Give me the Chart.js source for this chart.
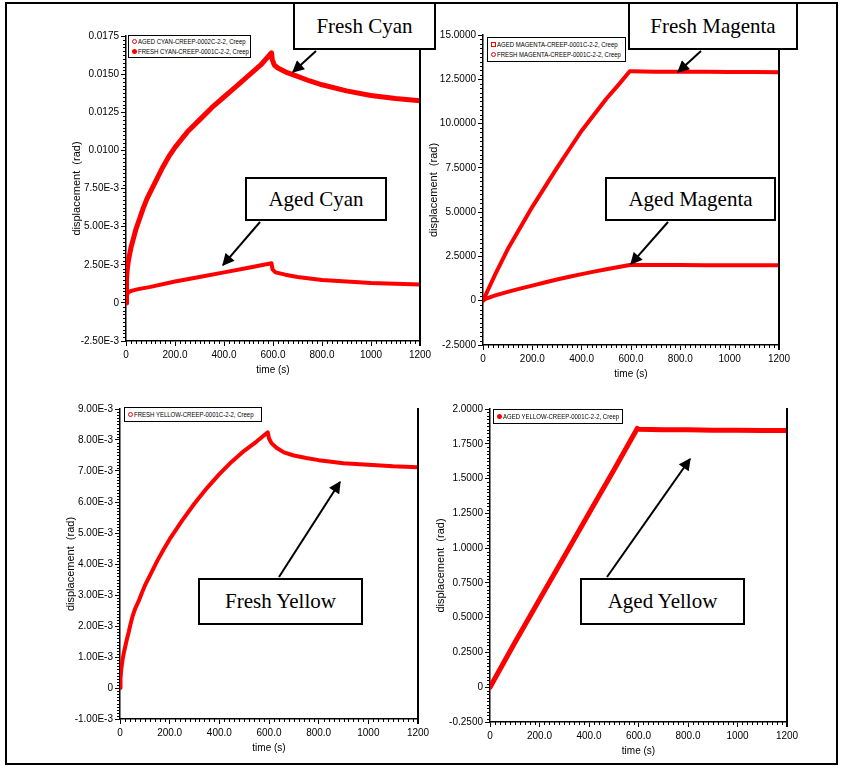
<!DOCTYPE html>
<html><head><meta charset="utf-8">
<script src="https://cdn.jsdelivr.net/npm/chart.js@4.4.0/dist/chart.umd.min.js"></script>
<style>
html,body{margin:0;padding:0;background:#fff;}
body{width:843px;height:767px;position:relative;overflow:hidden;font-family:'Liberation Sans',Arial,sans-serif;}
canvas.c{position:absolute;left:0;top:0;}
.frame{position:absolute;left:5px;top:2px;width:833px;height:763px;border:2px solid #000;box-sizing:border-box;}
.callout{position:absolute;background:#fff;border:2px solid #000;box-sizing:border-box;font-family:'Liberation Serif','Times New Roman',serif;font-size:21px;display:flex;align-items:center;justify-content:center;color:#000;}
.legend{position:absolute;border:1px solid #000;background:#fff;box-sizing:border-box;font-family:'Liberation Sans',Arial,sans-serif;font-size:7.5px;line-height:9.5px;padding:1px 3px;color:#000;white-space:nowrap;overflow:hidden;}
.legend .row{display:flex;align-items:center;}
.legend .t{display:inline-block;transform:scaleX(0.8);transform-origin:left center;}
.mk{display:inline-block;flex:none;width:5px;height:5px;margin-right:1px;box-sizing:border-box;}
.mk.oc{border:1.3px solid #f00;border-radius:50%;}
.mk.fc{background:#f00;border-radius:50%;}
.mk.os{border:1.3px solid #f00;}
svg.arrows{position:absolute;left:0;top:0;}
</style>
</head>
<body>
<div class="frame"></div>
<canvas class="c" id="c1" width="843" height="767"></canvas>
<canvas class="c" id="c2" width="843" height="767"></canvas>
<canvas class="c" id="c3" width="843" height="767"></canvas>
<canvas class="c" id="c4" width="843" height="767"></canvas>

<div class="legend" style="left:128px;top:35px;width:123px;height:23px;">
  <div class="row"><span class="mk oc"></span><span class="t">AGED CYAN-CREEP-0002C-2-2, Creep</span></div>
  <div class="row"><span class="mk fc"></span><span class="t">FRESH CYAN-CREEP-0001C-2-2, Creep</span></div>
</div>
<div class="legend" style="left:487px;top:37px;width:139px;height:25px;padding-top:2px;">
  <div class="row"><span class="mk os"></span><span class="t">AGED MAGENTA-CREEP-0001C-2-2, Creep</span></div>
  <div class="row"><span class="mk oc"></span><span class="t">FRESH MAGENTA-CREEP-0001C-2-2, Creep</span></div>
</div>
<div class="legend" style="left:124px;top:407px;width:138px;height:15px;padding-top:2px;">
  <div class="row"><span class="mk oc"></span><span class="t">FRESH YELLOW-CREEP-0001C-2-2, Creep</span></div>
</div>
<div class="legend" style="left:493px;top:409px;width:130px;height:15px;padding-top:2px;">
  <div class="row"><span class="mk fc"></span><span class="t">AGED YELLOW-CREEP-0001C-2-2, Creep</span></div>
</div>

<div class="callout" style="left:293px;top:2px;width:143px;height:48px;">Fresh Cyan</div>
<div class="callout" style="left:628px;top:2px;width:170px;height:48px;">Fresh Magenta</div>
<div class="callout" style="left:245px;top:177px;width:142px;height:44px;">Aged Cyan</div>
<div class="callout" style="left:605px;top:177px;width:171px;height:44px;">Aged Magenta</div>
<div class="callout" style="left:198px;top:578px;width:165px;height:47px;">Fresh Yellow</div>
<div class="callout" style="left:580px;top:578px;width:165px;height:47px;">Aged Yellow</div>

<svg class="arrows" width="843" height="767">
  <defs>
    <marker id="ah" viewBox="0 0 10 10" refX="9" refY="5" markerWidth="6.5" markerHeight="6" orient="auto" markerUnits="strokeWidth">
      <path d="M0,0 L10,5 L0,10 z" fill="#000"/>
    </marker>
  </defs>
  <g stroke="#000" stroke-width="2" marker-end="url(#ah)">
    <line x1="316" y1="51" x2="293" y2="72"/>
    <line x1="701" y1="51" x2="678" y2="72"/>
    <line x1="260" y1="222" x2="223" y2="265"/>
    <line x1="668" y1="222" x2="631" y2="264"/>
    <line x1="279" y1="577" x2="340" y2="482"/>
    <line x1="607" y1="577" x2="690" y2="459"/>
  </g>
</svg>

<script>
// ---------------- DATA ----------------
const xTickValues = [0, 200, 400, 600, 800, 1000, 1200];
const xTickLabels = ['0', '200.0', '400.0', '600.0', '800.0', '1000', '1200'];

// Plot 1: Cyan
const cyanYTicks  = [-0.0025, 0, 0.0025, 0.005, 0.0075, 0.01, 0.0125, 0.015, 0.0175];
const cyanYLabels = ['-2.50E-3', '0', '2.50E-3', '5.00E-3', '7.50E-3', '0.0100', '0.0125', '0.0150', '0.0175'];
const freshCyanTime = [0, 2, 5, 10, 15, 20, 30, 40, 55, 70, 85, 100, 125, 150, 175, 200, 250, 300, 350, 400, 450, 500, 550, 594, 597, 605, 620, 650, 700, 750, 800, 900, 1000, 1100, 1200];
const freshCyan     = [0, 0.0015, 0.0022, 0.0028, 0.0032, 0.0036, 0.0042, 0.0048, 0.0055, 0.0062, 0.0068, 0.0073, 0.0081, 0.0089, 0.0096, 0.0102, 0.0112, 0.0120, 0.0128, 0.0135, 0.0142, 0.0149, 0.0156, 0.0164, 0.01595, 0.0156, 0.0154, 0.01515, 0.01485, 0.01455, 0.0143, 0.0139, 0.0136, 0.0134, 0.01325];
const agedCyanTime  = [0, 3, 10, 25, 50, 100, 200, 300, 400, 500, 594, 598, 610, 650, 700, 800, 900, 1000, 1100, 1200];
const agedCyan      = [0, 0.0005, 0.0007, 0.0008, 0.0009, 0.00105, 0.0014, 0.0017, 0.002, 0.0023, 0.0026, 0.0022, 0.002, 0.00185, 0.0017, 0.0015, 0.0014, 0.0013, 0.00125, 0.0012];

// Plot 2: Magenta
const magYTicks  = [-2.5, 0, 2.5, 5, 7.5, 10, 12.5, 15];
const magYLabels = ['-2.5000', '0', '2.5000', '5.0000', '7.5000', '10.0000', '12.5000', '15.0000'];
const freshMagTime = [0, 50, 100, 150, 200, 250, 300, 350, 400, 450, 500, 550, 595, 600, 700, 800, 900, 1000, 1100, 1200];
const freshMag     = [0, 1.5, 2.9, 4.1, 5.3, 6.4, 7.5, 8.55, 9.6, 10.5, 11.4, 12.2, 12.95, 12.95, 12.93, 12.92, 12.92, 12.91, 12.91, 12.9];
const agedMagTime  = [0, 10, 50, 100, 150, 200, 250, 300, 350, 400, 450, 500, 550, 595, 600, 700, 800, 900, 1000, 1100, 1200];
const agedMag      = [0, 0.1, 0.3, 0.5, 0.68, 0.85, 1.03, 1.2, 1.35, 1.5, 1.64, 1.78, 1.9, 2.02, 2.02, 2.01, 2.01, 2.0, 2.0, 2.0, 2.0];

// Plot 3: Fresh Yellow
const fyYTicks  = [-0.001, 0, 0.001, 0.002, 0.003, 0.004, 0.005, 0.006, 0.007, 0.008, 0.009];
const fyYLabels = ['-1.00E-3', '0', '1.00E-3', '2.00E-3', '3.00E-3', '4.00E-3', '5.00E-3', '6.00E-3', '7.00E-3', '8.00E-3', '9.00E-3'];
const freshYellowTime = [0, 2, 5, 10, 15, 20, 28, 35, 42, 50, 62, 75, 87, 100, 125, 150, 175, 200, 250, 300, 350, 400, 450, 500, 550, 595, 600, 610, 630, 660, 700, 750, 800, 900, 1000, 1100, 1200];
const freshYellow     = [0, 0.0003, 0.0006, 0.0009, 0.00112, 0.0013, 0.00158, 0.0018, 0.00205, 0.0023, 0.00258, 0.0028, 0.00305, 0.0033, 0.0037, 0.0041, 0.00446, 0.0048, 0.0054, 0.00595, 0.00645, 0.0069, 0.0073, 0.00765, 0.00795, 0.00825, 0.00805, 0.0079, 0.00775, 0.0076, 0.0075, 0.00742, 0.00735, 0.00725, 0.0072, 0.00715, 0.00712];

// Plot 4: Aged Yellow
const ayYTicks  = [-0.25, 0, 0.25, 0.5, 0.75, 1.0, 1.25, 1.5, 1.75, 2.0];
const ayYLabels = ['-0.2500', '0', '0.2500', '0.5000', '0.7500', '1.0000', '1.2500', '1.5000', '1.7500', '2.0000'];
const agedYellowTime = [0, 100, 200, 300, 400, 500, 595, 600, 700, 800, 900, 1000, 1100, 1200];
const agedYellow     = [0, 0.32, 0.63, 0.94, 1.25, 1.56, 1.86, 1.855, 1.85, 1.85, 1.848, 1.847, 1.846, 1.845];

// ---------------- RENDER ----------------
const W = 843, H = 767;
const FONT = "'Liberation Sans',Arial,sans-serif";
const toXY = (t, v) => t.map((x, i) => ({x, y: v[i]}));

const decor = {
  id: 'decor',
  afterDraw(chart, args, o) {
    const ctx = chart.ctx, a = chart.chartArea;
    const xs = chart.scales.x, ys = chart.scales.y;
    ctx.save();
    ctx.strokeStyle = '#000'; ctx.lineWidth = 1;
    ctx.beginPath();
    const yt = o.yTicks;
    for (let i = 0; i < yt.length - 1; i++) {
      for (let k = 1; k < 10; k++) {
        const p = Math.round(ys.getPixelForValue(yt[i] + (yt[i+1]-yt[i])*k/10)) + 0.5;
        ctx.moveTo(a.left - 3, p); ctx.lineTo(a.left, p);
      }
    }
    for (let i = 0; i < xTickValues.length - 1; i++) {
      for (let k = 1; k < 10; k++) {
        const p = Math.round(xs.getPixelForValue(xTickValues[i] + (xTickValues[i+1]-xTickValues[i])*k/10)) + 0.5;
        ctx.moveTo(p, a.bottom); ctx.lineTo(p, a.bottom + 3);
      }
    }
    ctx.stroke();
    ctx.lineWidth = 2;
    ctx.beginPath();
    ctx.moveTo(a.right, o.rightTop); ctx.lineTo(a.right, a.bottom + 5);
    ctx.stroke();
    ctx.restore();
  }
};

function makeChart(id, area, yMin, yMax, yTicks, yLabels, datasets, rightTop) {
  const YW = 60, XH = 35;
  new Chart(document.getElementById(id), {
    type: 'line',
    data: { datasets },
    options: {
      responsive: false, animation: false, devicePixelRatio: 1,
      layout: { padding: { left: area.left - YW, top: area.top, right: W - area.right, bottom: H - area.bottom - XH } },
      plugins: { legend: { display: false }, tooltip: { enabled: false }, decor: { yTicks, rightTop } },
      elements: { point: { radius: 0 }, line: { tension: 0, borderJoinStyle: 'round', borderCapStyle: 'round' } },
      scales: {
        x: {
          type: 'linear', min: 0, max: 1200,
          afterBuildTicks: s => { s.ticks = xTickValues.map(v => ({value: v})); },
          afterFit: s => { s.height = XH; s.paddingLeft = 0; s.paddingRight = 0; s.paddingTop = 0; s.paddingBottom = 0; },
          ticks: { autoSkip: false, maxRotation: 0, padding: 3, color: '#000', font: { family: FONT, size: 10 },
                   callback: (v, i) => xTickLabels[i] },
          grid: { drawOnChartArea: false, drawTicks: true, tickLength: 5, color: '#000', lineWidth: 1 },
          border: { display: true, color: '#000', width: 1.5 },
          title: { display: true, text: 'time (s)', color: '#000', font: { family: FONT, size: 10 }, padding: { top: 0, bottom: 0 } }
        },
        y: {
          type: 'linear', min: yMin, max: yMax,
          afterBuildTicks: s => { s.ticks = yTicks.map(v => ({value: v})); },
          afterFit: s => { s.width = YW; s.paddingLeft = 0; s.paddingRight = 0; s.paddingTop = 0; s.paddingBottom = 0; },
          ticks: { autoSkip: false, padding: 2, color: '#000', font: { family: FONT, size: 10 },
                   callback: (v, i) => yLabels[i] },
          grid: { drawOnChartArea: false, drawTicks: true, tickLength: 5, color: '#000', lineWidth: 1 },
          border: { display: true, color: '#000', width: 1.5 },
          title: { display: true, text: 'displacement  (rad)', color: '#000', font: { family: FONT, size: 11 }, padding: { top: 4, bottom: 0 } }
        }
      }
    },
    plugins: [decor]
  });
}

const RED = '#ff0000';
makeChart('c1', {left: 126, top: 36, right: 420, bottom: 341}, -0.0025, 0.0175, cyanYTicks, cyanYLabels, [
  { label: 'AGED CYAN-CREEP-0002C-2-2, Creep', data: toXY(agedCyanTime, agedCyan), borderColor: RED, borderWidth: 4 },
  { label: 'FRESH CYAN-CREEP-0001C-2-2, Creep', data: toXY(freshCyanTime, freshCyan), borderColor: RED, borderWidth: 5 }
], 3);
makeChart('c2', {left: 483, top: 35, right: 779, bottom: 345}, -2.5, 15, magYTicks, magYLabels, [
  { label: 'AGED MAGENTA-CREEP-0001C-2-2, Creep', data: toXY(agedMagTime, agedMag), borderColor: RED, borderWidth: 4 },
  { label: 'FRESH MAGENTA-CREEP-0001C-2-2, Creep', data: toXY(freshMagTime, freshMag), borderColor: RED, borderWidth: 4 }
], 3);
makeChart('c3', {left: 120, top: 409, right: 418, bottom: 719}, -0.001, 0.009, fyYTicks, fyYLabels, [
  { label: 'FRESH YELLOW-CREEP-0001C-2-2, Creep', data: toXY(freshYellowTime, freshYellow), borderColor: RED, borderWidth: 4 }
], 408);
makeChart('c4', {left: 490, top: 409, right: 787, bottom: 722}, -0.25, 2.0, ayYTicks, ayYLabels, [
  { label: 'AGED YELLOW-CREEP-0001C-2-2, Creep', data: toXY(agedYellowTime, agedYellow), borderColor: RED, borderWidth: 5 }
], 408);
</script>
</body></html>
